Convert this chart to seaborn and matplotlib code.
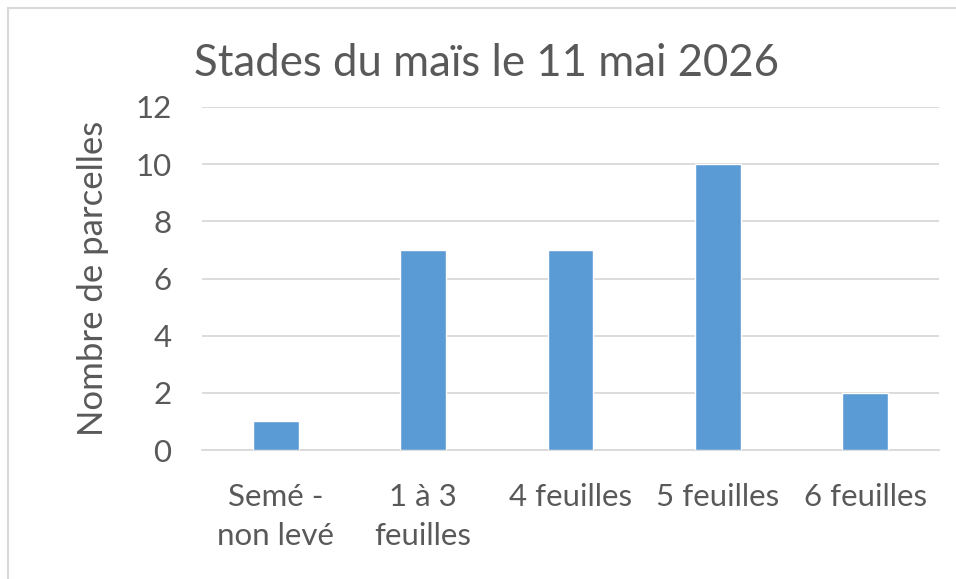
import matplotlib
matplotlib.use("Agg")
import matplotlib.pyplot as plt
import seaborn as sns
import pandas as pd
from matplotlib.patches import Rectangle

stades = ["Semé -\nnon levé", "1 à 3\nfeuilles", "4 feuilles", "5 feuilles", "6 feuilles"]
parcelles = [1, 7, 7, 10, 2]
y_ticks = [0, 2, 4, 6, 8, 10, 12]

sns.set_theme(style="white")
plt.rcParams['font.family'] = ['Lato', 'DejaVu Sans']
txt = "#595959"
grid = "#D9D9D9"

df = pd.DataFrame({"stade": stades, "n": parcelles})

fig = plt.figure(figsize=(9.56, 5.79), dpi=100)
ax = fig.add_axes([202 / 956, 1 - 450 / 579, (939 - 202) / 956, (450 - 107) / 579])

sns.barplot(data=df, x="stade", y="n", color="#5B9BD5", saturation=1, width=0.31, ax=ax, zorder=3)

ax.set_ylim(0, 12)
ax.set_yticks(y_ticks)
ax.set_xlim(-0.5, len(stades) - 0.5)
ax.grid(axis="y", color=grid, linewidth=1.3, zorder=0)
for s in ["top", "right", "left"]:
    ax.spines[s].set_visible(False)
ax.spines["bottom"].set_color(grid)
ax.spines["bottom"].set_linewidth(1.3)
ax.tick_params(axis="both", length=0, labelsize=22.5, colors=txt)
ax.tick_params(axis="y", pad=22)
ax.tick_params(axis="x", pad=24)
for lbl in ax.get_xticklabels():
    lbl.set_linespacing(1.45)
ax.set_xlabel("")
ax.set_ylabel("Nombre de parcelles", fontsize=25, color=txt, labelpad=19)

fig.text(486 / 956, 1 - 63 / 579, "Stades du maïs le 11 mai 2026", ha="center", va="center",
         fontsize=31.5, color=txt)

fig.patches.append(Rectangle((8 / 956, -0.1), 1.2, 1 - 8 / 579 + 0.1, transform=fig.transFigure,
                             fill=False, edgecolor=grid, linewidth=1.5))

fig.savefig("out.png", dpi=100)
